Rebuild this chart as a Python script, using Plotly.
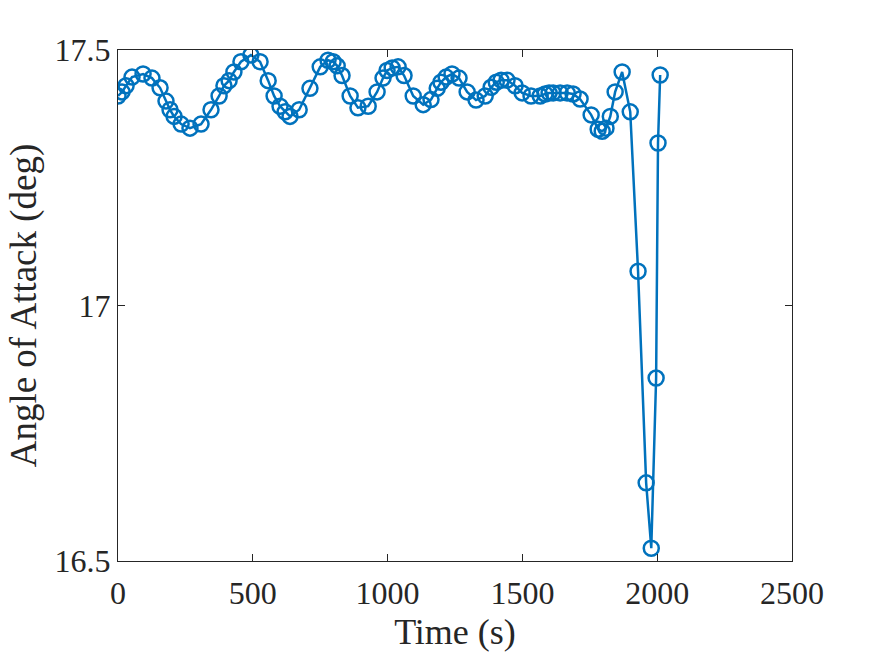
import plotly.graph_objects as go

time_s = [0, 15, 30, 52, 93, 126, 156, 178, 193, 208, 234, 267, 308, 345, 375, 393, 412, 430,
          456, 493, 527, 557, 579, 601, 620, 638, 672, 712, 750, 779, 798, 813, 831, 861, 890,
          928, 961, 983, 998, 1017, 1039, 1061, 1095, 1132, 1161, 1184, 1198, 1217, 1239, 1265,
          1295, 1328, 1362, 1384, 1403, 1421, 1443, 1473, 1499, 1532, 1566, 1584, 1599, 1614,
          1640, 1666, 1688, 1714, 1755, 1781, 1796, 1810, 1826, 1844, 1870, 1900, 1929, 1959,
          1978, 1996, 2003, 2011]
aoa_deg = [17.41, 17.418, 17.43, 17.447, 17.453, 17.445, 17.426, 17.40, 17.383, 17.37, 17.355,
           17.347, 17.355, 17.383, 17.41, 17.43, 17.44, 17.457, 17.477, 17.49, 17.477, 17.44,
           17.41, 17.39, 17.379, 17.37, 17.383, 17.425, 17.467, 17.48, 17.477, 17.469, 17.45,
           17.41, 17.387, 17.39, 17.418, 17.445, 17.46, 17.465, 17.467, 17.45, 17.41, 17.393,
           17.403, 17.425, 17.437, 17.447, 17.453, 17.445, 17.418, 17.402, 17.41, 17.427,
           17.437, 17.441, 17.441, 17.43, 17.416, 17.41, 17.41, 17.414, 17.416, 17.416, 17.416,
           17.416, 17.414, 17.404, 17.373, 17.345, 17.341, 17.347, 17.37, 17.418, 17.457,
           17.379, 17.067, 16.653, 16.525, 16.858, 17.318, 17.451]

x_ticks = [0, 500, 1000, 1500, 2000, 2500]
y_ticks = [16.5, 17, 17.5]

color = "#0072BD"
font_family = "Liberation Serif"
text_color = "#262626"

fig = go.Figure(go.Scatter(
    x=time_s, y=aoa_deg, mode="lines+markers",
    line=dict(color=color, width=2.5),
    marker=dict(symbol="circle-open", size=15, color=color, line=dict(width=2.5, color=color)),
))

axis_common = dict(
    showgrid=False, zeroline=False, showline=True, linecolor=text_color, linewidth=1,
    mirror="ticks", ticks="inside", ticklen=7, tickwidth=1, tickcolor=text_color,
    tickfont=dict(family=font_family, size=32, color=text_color),
)

fig.update_layout(
    width=875, height=656,
    margin=dict(l=118, r=83, t=50, b=95),
    paper_bgcolor="white", plot_bgcolor="white",
    showlegend=False,
    font=dict(family=font_family, color=text_color),
    xaxis=dict(range=[0, 2500], tickvals=x_ticks, ticktext=[str(v) for v in x_ticks],
               ticklabelstandoff=4,
               title=dict(text="Time (s)", font=dict(family=font_family, size=36, color=text_color), standoff=8),
               **axis_common),
    yaxis=dict(range=[16.5, 17.5], tickvals=y_ticks, ticktext=["16.5", "17", "17.5"],
               title=dict(text="Angle of Attack (deg)", font=dict(family=font_family, size=37, color=text_color), standoff=6),
               **axis_common),
)

fig.write_html("out.html")
